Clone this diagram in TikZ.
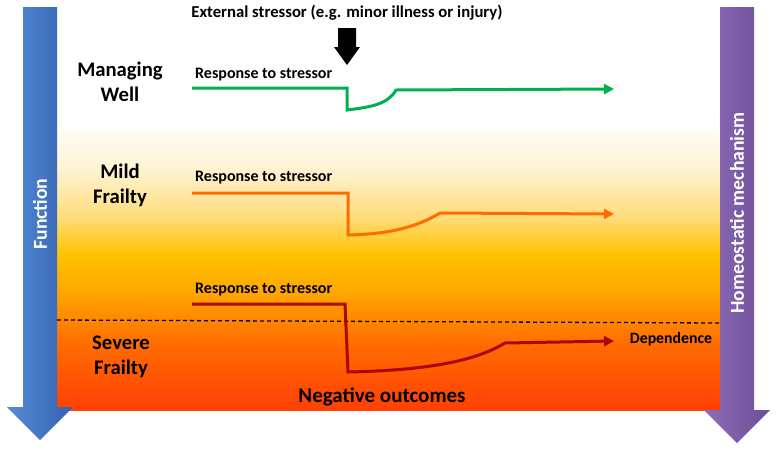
\documentclass[tikz,border=0pt]{standalone}
\usepackage{fontspec}
\setmainfont{Carlito}
\usetikzlibrary{arrows.meta}
\definecolor{lgreen}{RGB}{0,176,80}
\definecolor{lorange}{RGB}{255,108,0}
\definecolor{dred}{RGB}{170,8,8}
\definecolor{blueL}{RGB}{84,140,214}
\definecolor{blueR}{RGB}{52,98,176}
\definecolor{purpL}{RGB}{142,108,184}
\definecolor{purpR}{RGB}{108,78,150}
\pgfdeclareverticalshading{frailty}{100bp}{%
 rgb(0bp)=(1,0.25,0.02); rgb(25bp)=(1,0.25,0.02);
 rgb(36.6bp)=(1,0.42,0); rgb(41.1bp)=(1,0.53,0);
 rgb(46.4bp)=(1,0.66,0); rgb(52.7bp)=(1,0.76,0);
 rgb(59.8bp)=(1,0.87,0.5); rgb(67.9bp)=(1,0.95,0.82);
 rgb(75bp)=(1,0.99,0.96); rgb(100bp)=(1,0.99,0.96)}
\tikzset{
 resp/.style={line width=3pt,-{Triangle[length=10pt,width=10pt]}},
 lbl/.style={font=\bfseries\fontsize{16}{18}\selectfont,inner sep=0pt,anchor=west},
 state/.style={font=\bfseries\fontsize{20.7}{25}\selectfont,align=center,inner sep=0pt},
 axislbl/.style={font=\bfseries\fontsize{19.7}{22}\selectfont,text=white,rotate=90,inner sep=0pt},
}
\begin{document}
\begin{tikzpicture}[x=1pt,y=-1pt]
\useasboundingbox (0,0) rectangle (776,451);
% background gradient
\shade[shading=frailty] (57,130) rectangle (720,410);
% side arrows
\shade[left color=blueL,right color=blueR] (23,7) -- (57,7) -- (57,407) -- (73,407) -- (40,440) -- (7,407) -- (23,407) -- cycle;
\shade[left color=purpL,right color=purpR] (720,7) -- (754,7) -- (754,410) -- (770,410) -- (737,443) -- (704,410) -- (720,410) -- cycle;
\node[axislbl] (func) at (40,214) {Function};
\node[axislbl] (homeo) at (737,213) {Homeostatic mechanism};
% dashed threshold
\coordinate (dL) at (57,320);
\coordinate (dR) at (720,323);
\draw[line width=1.3pt,dash pattern=on 4pt off 3pt] (dL) -- (dR);
% stressor
\node[font=\bfseries\fontsize{16.7}{18}\selectfont,inner sep=0pt] (ext) at (347,13) {External stressor (e.g. minor illness or injury)};
\fill (338,28) -- (356,28) -- (356,47) -- (360,47) -- (347,65) -- (334,47) -- (338,47) -- cycle;
% state labels
\node[state] (mw) at (120,82) {Managing\\Well};
\node[state] (mf) at (120,185) {Mild\\Frailty};
\node[state] (sf) at (121,357) {Severe\\Frailty};
\node[lbl] (r1) at (195,75) {Response to stressor};
\node[lbl] (r2) at (195,178) {Response to stressor};
\node[lbl] (r3) at (195,290) {Response to stressor};
\node[font=\bfseries\fontsize{21}{23}\selectfont,inner sep=0pt] (neg) at (382,397) {Negative outcomes};
\node[font=\bfseries\fontsize{15.8}{17}\selectfont,inner sep=0pt] (dep) at (671,339) {Dependence};
% green response
\coordinate (g0) at (192,88);
\coordinate (g1) at (347,88);
\coordinate (g2) at (347,110);
\coordinate (g3) at (396,90);
\coordinate (g4) at (614,89);
\draw[resp,lgreen] (g0) -- (g1) -- (g2) .. controls (372,107) and (388,104) .. (g3) -- (g4);
% orange response
\coordinate (o0) at (192,193);
\coordinate (o1) at (348,193);
\coordinate (o2) at (348,235);
\coordinate (o3) at (440,213);
\coordinate (o4) at (614,214);
\draw[resp,lorange] (o0) -- (o1) -- (o2) .. controls (395,234) and (420,225) .. (o3) -- (o4);
% dark red response
\coordinate (s0) at (192,304);
\coordinate (s1) at (345,304);
\coordinate (s2) at (348,372);
\coordinate (s3) at (505,343);
\coordinate (s4) at (614,341);
\draw[resp,dred] (s0) -- (s1) -- (s2) .. controls (440,370) and (480,358) .. (s3) -- (s4);
\end{tikzpicture}
\end{document}
